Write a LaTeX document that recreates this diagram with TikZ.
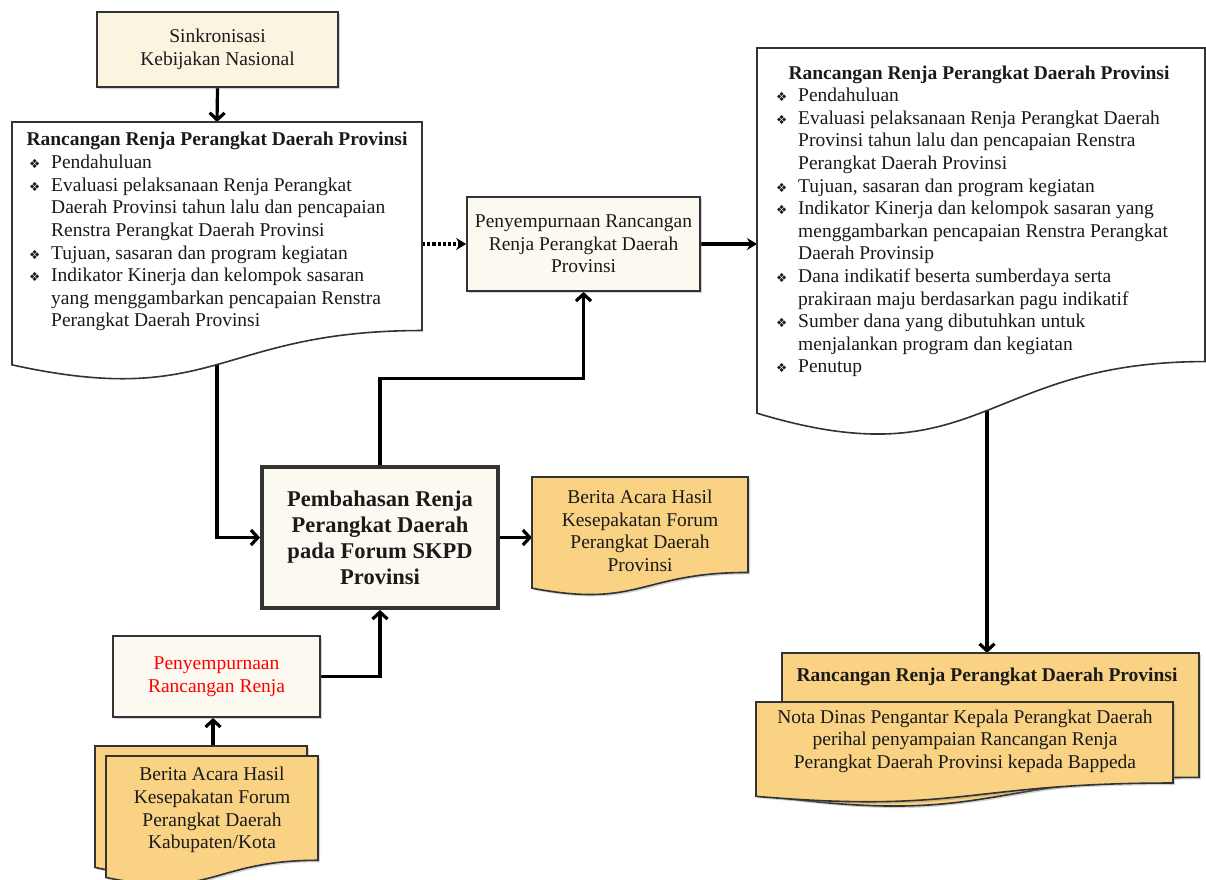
\documentclass[tikz,border=0pt]{standalone}
\usepackage{fontspec}
\setmainfont{Liberation Serif}
\newfontfamily\symfont{DejaVu Sans}
\usetikzlibrary{arrows.meta,shadows,backgrounds}
\definecolor{cream}{HTML}{FCFAF0}
\definecolor{creamy}{HTML}{FAF4E0}
\definecolor{orangefill}{HTML}{F9D284}
\definecolor{txt}{HTML}{1A1A1A}
\newcommand\bul{\makebox[22pt][l]{\symfont\fontsize{12.5}{12.5}\selectfont ❖}}
\newcommand\ind{\hspace*{22pt}}
\newcommand\docpath[4]{(#1,#2) -- ++(#3,0) -- ++(0,{0.802*#4}) .. controls ++({-#3/2},0) and ({#1+#3/2},{#2+1.1075*#4}) .. (#1,{#2+0.934*#4}) -- cycle}
\begin{document}
\begin{tikzpicture}[x=1pt,y=-1pt,
  font=\fontsize{19.5}{22.6}\selectfont, text=txt,
  shade/.style={drop shadow={shadow xshift=2pt,shadow yshift=-2pt,opacity=0.35}},
  box/.style={draw=black!80, line width=1.7pt, fill=cream, shade, align=center, inner sep=0pt},
  docw/.style={draw=black!80, line width=1.6pt, fill=white},
  doco/.style={draw=black!80, line width=1.6pt, fill=orangefill, shade},
  conn/.style={line width=3.2pt, -{Straight Barb[length=7pt,width=15pt]}},
  connf/.style={line width=3.2pt, -{Stealth[length=10pt,width=12pt]}},
  plain/.style={inner sep=0pt, align=center},
  bold/.style={font=\fontsize{19.5}{22.6}\selectfont\bfseries},
  list/.style={inner sep=0pt, align=left, anchor=north west}]
\useasboundingbox (0,0) rectangle (1206,879);

% --- top left
\node[box, fill=creamy, minimum width=241pt, minimum height=75pt] (sink) at (217.5,49.5) {Sinkronisasi\\Kebijakan Nasional};

\draw[docw] \docpath{12}{122}{410}{260};
\node[plain, bold] (ldtitle) at (217,141) {Rancangan Renja Perangkat Daerah Provinsi};
\node[list] (ldlist) at (29,155) {\bul Pendahuluan\\
\bul Evaluasi pelaksanaan Renja Perangkat\\
\ind Daerah Provinsi tahun lalu dan pencapaian\\
\ind Renstra Perangkat Daerah Provinsi\\
\bul Tujuan, sasaran dan program kegiatan\\
\bul Indikator Kinerja dan kelompok sasaran\\
\ind yang menggambarkan pencapaian Renstra\\
\ind Perangkat Daerah Provinsi};
\coordinate (ldtop) at (217,122);
\coordinate (ldbot) at (217,340);
\coordinate (ldright) at (422,244);

% --- middle
\node[box, minimum width=233pt, minimum height=94pt] (pen) at (583.5,244) {Penyempurnaan Rancangan\\Renja Perangkat Daerah\\Provinsi};

% --- right doc
\draw[docw] \docpath{757}{48}{448}{391};
\node[plain, bold] (rdtitle) at (979,75) {Rancangan Renja Perangkat Daerah Provinsi};
\node[list] (rdlist) at (776,88) {\bul Pendahuluan\\
\bul Evaluasi pelaksanaan Renja Perangkat Daerah\\
\ind Provinsi tahun lalu dan pencapaian Renstra\\
\ind Perangkat Daerah Provinsi\\
\bul Tujuan, sasaran dan program kegiatan\\
\bul Indikator Kinerja dan kelompok sasaran yang\\
\ind menggambarkan pencapaian Renstra Perangkat\\
\ind Daerah Provinsip\\
\bul Dana indikatif beserta sumberdaya serta\\
\ind prakiraan maju berdasarkan pagu indikatif\\
\bul Sumber dana yang dibutuhkan untuk\\
\ind menjalankan program dan kegiatan\\
\bul Penutup};
\coordinate (rdleft) at (757,244);
\coordinate (rdbot) at (987,400);

% --- central
\node[box, line width=3.8pt, minimum width=236pt, minimum height=141pt, font=\fontsize{22.5}{26}\selectfont\bfseries] (pemb) at (380,537.5) {Pembahasan Renja\\Perangkat Daerah\\pada Forum SKPD\\Provinsi};

% --- berita provinsi
\draw[doco] \docpath{532}{477}{216}{119};
\node[plain] (bprov) at (640,531) {Berita Acara Hasil\\Kesepakatan Forum\\Perangkat Daerah\\Provinsi};
\coordinate (bpw) at (532,537.5);

% --- red box
\node[box, text=red, minimum width=207pt, minimum height=81pt] (red) at (216.5,676.5) {Penyempurnaan\\Rancangan Renja};

% --- bottom-left stack
\draw[doco] \docpath{95}{746}{212}{130};
\draw[doco] \docpath{106}{756}{212}{130};
\node[plain] (bkab) at (212,810) {Berita Acara Hasil\\Kesepakatan Forum\\Perangkat Daerah\\Kabupaten/Kota};
\coordinate (bltop) at (213,746);

% --- bottom-right stack
\draw[doco] \docpath{782}{653}{417}{155};
\node[plain, bold] (brtitle) at (987,677) {Rancangan Renja Perangkat Daerah Provinsi};
\draw[doco] \docpath{756}{702}{417}{101};
\node[plain] (brtext) at (965,741) {Nota Dinas Pengantar Kepala Perangkat Daerah\\perihal penyampaian Rancangan Renja\\Perangkat Daerah Provinsi kepada Bappeda};
\coordinate (brtop) at (987,653);

% --- connectors
\begin{scope}[on background layer]
\draw[conn] (sink.south) -- (ldtop);
\draw[conn] (ldbot) |- (pemb.west);
\draw[conn] (pemb.north) -- ++(0,-87) -| (pen.south);
\draw[conn] (pemb.east) -- (bpw);
\draw[connf, dotted] (ldright) -- (pen.west);
\draw[connf] (pen.east) -- (rdleft);
\draw[conn] (rdbot) -- (brtop);
\draw[conn] (red.east) -| (pemb.south);
\draw[conn] (bltop) -- (bltop |- red.south);
\end{scope}
\end{tikzpicture}
\end{document}
